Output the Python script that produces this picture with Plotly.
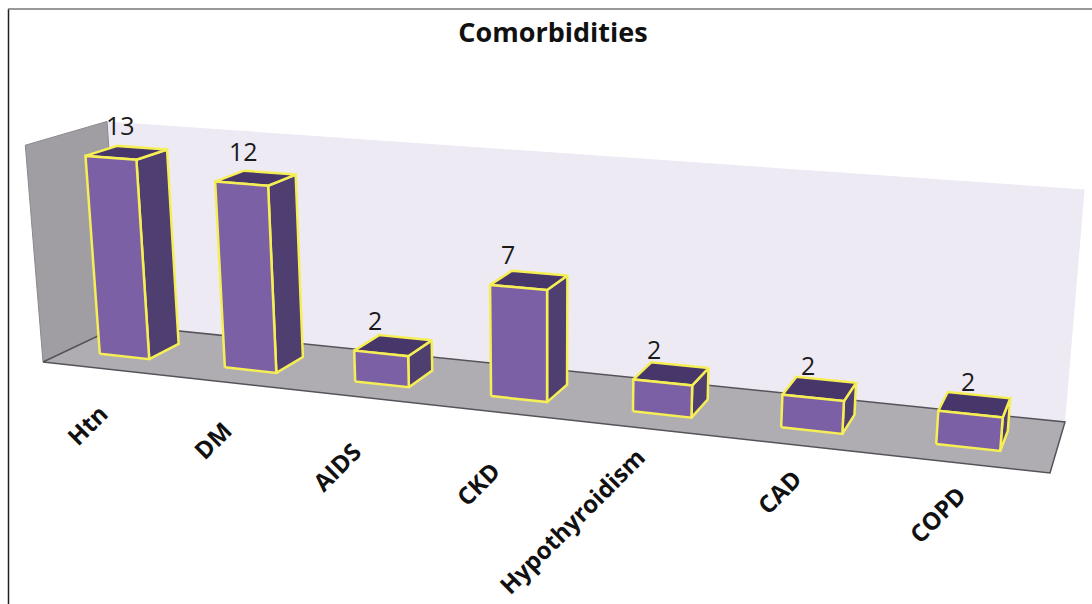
import numpy as np
import plotly.graph_objects as go

categories = ["Htn", "DM", "AIDS", "CKD", "Hypothyroidism", "CAD", "COPD"]
values = [13, 12, 2, 7, 2, 2, 2]
axis_max = 14

W, H = 1092, 604

# Perspective camera: (category fraction, depth fraction, value, 1) -> homogeneous screen position
CAMERA = np.array([
    [856.5887, 86.35063, -1.324638, 43.0],
    [43.24329, -14.57062, -15.83754, 362.0],
    [-0.1432489, 0.06901349, -0.00241718, 1.0],
])

BAR_WIDTH, DEPTH_FRONT, DEPTH_BACK, BAR_NUDGE = 0.4, 0.30, 0.70, -0.005
FRONT, SIDE, TOP, EDGE = "#7c60a6", "#4f3e70", "#46366a", "#f5ef55"

# Offset of each rotated category label from its point on the front floor edge
LABEL_SHIFT = [(-18, 56), (-22, 57), (-31, 69), (-30, 70), (-82, 91), (-28, 45), (-30, 51)]
# Sideways offset of each value label from the middle of its bar's front face
VALUE_SHIFT = [10, 2, -6, -10, -9, -5, -2]


def project(u, v, w):
    q = CAMERA @ np.array([u, v, w, 1.0])
    return q[0] / q[2], q[1] / q[2]


fig = go.Figure()


def face(corners, fill, line=None, width=0):
    pts = [project(*c) for c in corners]
    pts.append(pts[0])
    fig.add_trace(go.Scatter(
        x=[p[0] for p in pts], y=[p[1] for p in pts],
        mode="lines", fill="toself", fillcolor=fill,
        line=dict(color=line or fill, width=width if line else 0),
        hoverinfo="skip", showlegend=False,
    ))


# Back wall, side wall and floor of the chart box
face([(0, 1, 0), (1, 1, 0), (1, 1, axis_max), (0, 1, axis_max)], "#edeaf4")
face([(0, 0, 0), (0, 1, 0), (0, 1, axis_max), (0, 0, axis_max)], "#a09ea3", "#8a888d", 1)
face([(0, 0, 0), (1, 0, 0), (1, 1, 0), (0, 1, 0)], "#b0adb2", "#55535a", 1.5)

n = len(categories)
for i, (name, val) in enumerate(zip(categories, values)):
    u0 = (i + 0.5 - BAR_WIDTH / 2) / n + BAR_NUDGE
    u1 = (i + 0.5 + BAR_WIDTH / 2) / n + BAR_NUDGE
    v0, v1 = DEPTH_FRONT, DEPTH_BACK

    face([(u1, v0, 0), (u1, v1, 0), (u1, v1, val), (u1, v0, val)], SIDE, EDGE, 2.5)
    face([(u0, v0, val), (u1, v0, val), (u1, v1, val), (u0, v1, val)], TOP, EDGE, 2.5)
    face([(u0, v0, 0), (u1, v0, 0), (u1, v0, val), (u0, v0, val)], FRONT, EDGE, 2.5)

    # Value above the bar's front face
    x, y = project((u0 + u1) / 2, v0, val)
    fig.add_annotation(x=x, y=y, text=str(val), showarrow=False,
                       yanchor="middle", yshift=33, xshift=VALUE_SHIFT[i],
                       font=dict(family="Open Sans", size=25, color="#1a1a1a"))

    # Rotated category label under the floor
    tx, ty = project((i + 0.5) / n, 0, 0)
    sx, sy = LABEL_SHIFT[i]
    fig.add_annotation(x=tx + sx, y=ty + sy, text=f"<b>{name}</b>", showarrow=False,
                       textangle=-45,
                       font=dict(family="Open Sans", size=24, color="#111"))

fig.update_layout(
    width=W, height=H,
    margin=dict(l=0, r=0, t=0, b=0),
    paper_bgcolor="white", plot_bgcolor="white",
    xaxis=dict(range=[0, W], visible=False, fixedrange=True),
    yaxis=dict(range=[H, 0], visible=False, fixedrange=True),
    showlegend=False,
    shapes=[
        dict(type="line", xref="paper", yref="paper", x0=8.5 / W, x1=8.5 / W,
             y0=0, y1=1 - 9 / H, line=dict(color="#222", width=1.5)),
        dict(type="line", xref="paper", yref="paper", x0=8 / W, x1=1,
             y0=1 - 9 / H, y1=1 - 9 / H, line=dict(color="#777", width=1.5)),
    ],
    title=dict(text="<b>Comorbidities</b>", x=553 / W, xanchor="center",
               y=1 - 33 / H, yanchor="middle",
               font=dict(family="Open Sans", size=27, color="#111")),
)
fig.write_html("out.html")
